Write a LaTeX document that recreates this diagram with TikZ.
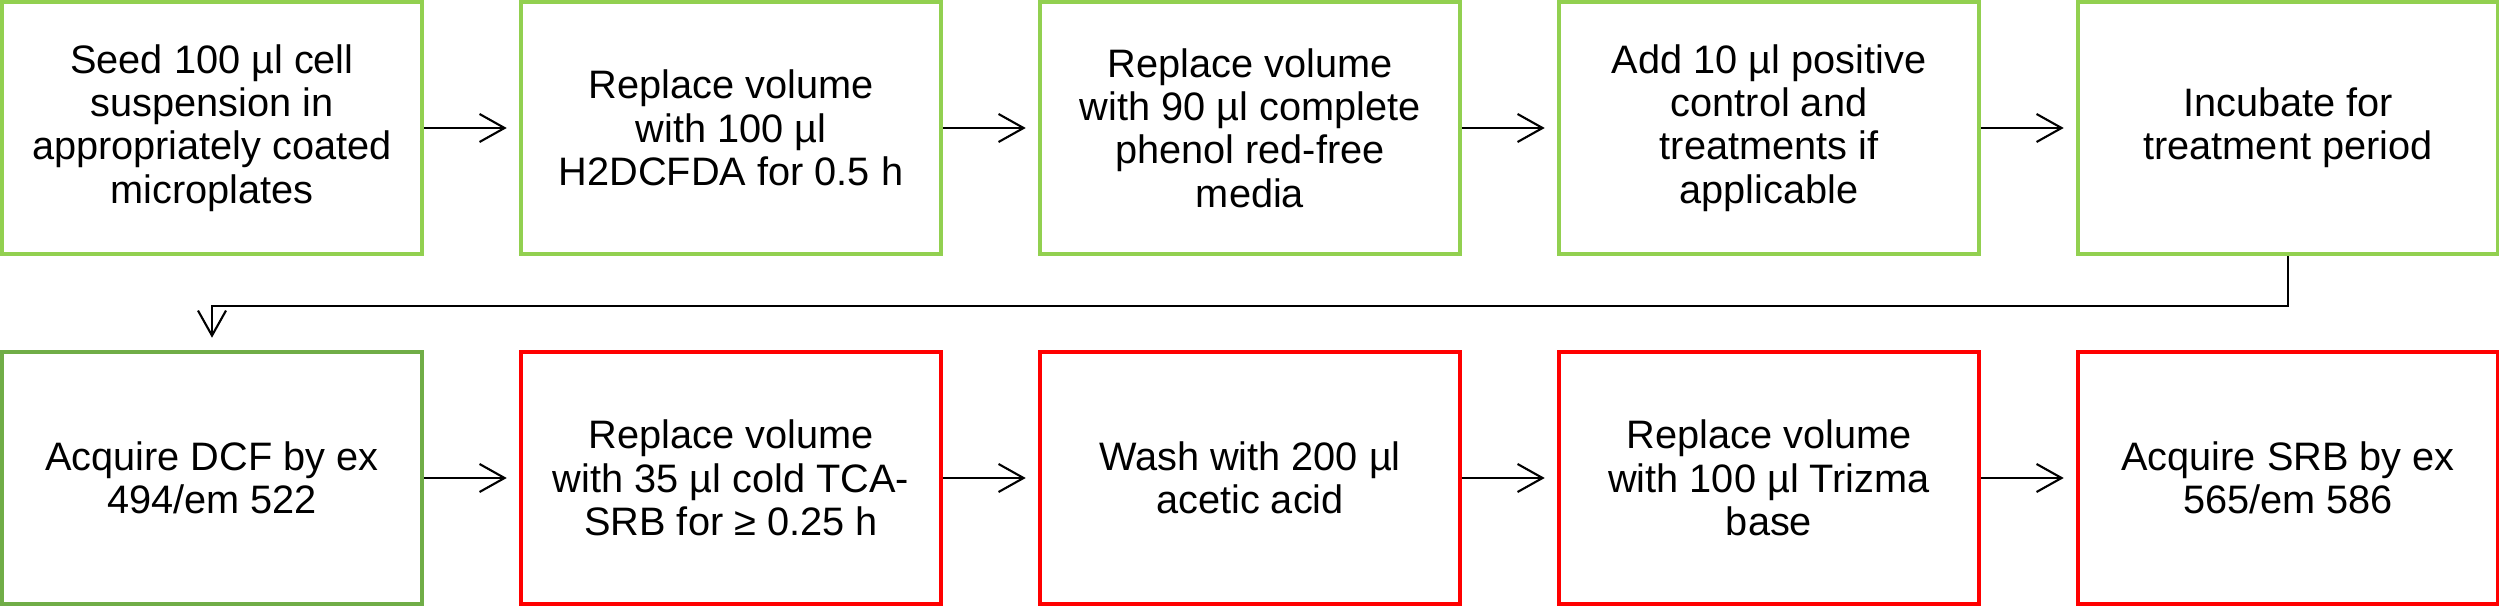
\documentclass[tikz,border=0pt]{standalone}
\usepackage{fontspec}
\setmainfont{Liberation Sans}
\usepackage{tikz}
\usetikzlibrary{arrows.meta}

\definecolor{topgreen}{HTML}{92D050}
\definecolor{dcfgreen}{HTML}{70AD47}
\definecolor{srbred}{HTML}{FF0000}

\begin{document}
\begin{tikzpicture}[->,>={Straight Barb[length=2.5mm,width=2.8mm]},shorten >=1.2mm,line width=0.6pt,node distance=5.19cm]

    \tikzstyle{every node}=[align=center,text=black,font=\fontsize{11.3}{12.3}\selectfont]
    \tikzstyle{stepbox}=[draw,fill=white,line width=1.3pt,minimum width=4.2cm,minimum height=2.52cm,inner sep=0pt]
    \tikzstyle{dcfbox}=[stepbox,draw=topgreen]
    \tikzstyle{srbbox}=[stepbox,draw=srbred]

    \useasboundingbox (0,0) rectangle (24.99,6.06);

    % first row
    \node[dcfbox] (0) at (2.12,4.78) {Seed 100 µl cell\\suspension in\\appropriately coated\\microplates};
    \node[dcfbox] (1) [right of=0] {Replace volume\\with 100 µl\\H2DCFDA for 0.5 h};
    \node[dcfbox] (2) [right of=1] {Replace volume\\with 90 µl complete\\phenol red-free\\media};
    \node[dcfbox] (3) [right of=2] {Add 10 µl positive\\control and\\treatments if\\applicable};
    \node[dcfbox] (4) [right of=3] {Incubate for\\treatment period};

    % second row
    \node[stepbox,draw=dcfgreen] (5) at (2.12,1.28) {Acquire DCF by ex\\494/em 522};
    \node[srbbox] (6) [right of=5] {Replace volume\\with 35 µl cold TCA-\\SRB for ≥ 0.25 h};
    \node[srbbox] (7) [right of=6] {Wash with 200 µl\\acetic acid};
    \node[srbbox] (8) [right of=7] {Replace volume\\with 100 µl Trizma\\base};
    \node[srbbox] (9) [right of=8] {Acquire SRB by ex\\565/em 586};

    \path (0) edge (1)
          (1) edge (2)
          (2) edge (3)
          (3) edge (4)
          (5) edge (6)
          (6) edge (7)
          (7) edge (8)
          (8) edge (9)
    ;
    \draw (4.south) -- ++(0,-0.5) -| (5.north);
\end{tikzpicture}
\end{document}
